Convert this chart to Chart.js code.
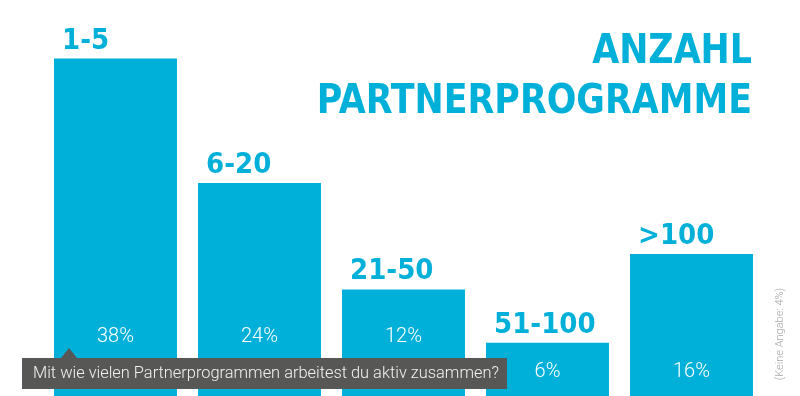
<!DOCTYPE html>
<html>
<head>
<meta charset="utf-8">
<script src="https://cdn.jsdelivr.net/npm/chart.js@4"></script>
<style>
  html, body { margin: 0; padding: 0; background: #fff; }
  #wrap { width: 800px; height: 396px; }
</style>
</head>
<body>
<div id="wrap"><canvas id="myChart" width="800" height="396"></canvas></div>
<script>
// data
var categories = ['1-5', '6-20', '21-50', '51-100', '>100'];
var shares = [38, 24, 12, 6, 16];
var titleLines = ['ANZAHL', 'PARTNERPROGRAMME'];
var question = 'Mit wie vielen Partnerprogrammen arbeitest du aktiv zusammen?';
var note = '(Keine Angabe: 4%)';

var blue = '#00b0d9';
var boldFont = '"DejaVu Sans Condensed", "DejaVu Sans", sans-serif';
var lightFont = 'Roboto, "Open Sans", sans-serif';

var overlay = {
  id: 'overlay',
  afterDatasetsDraw: function(chart) {
    var c = chart.ctx;
    var meta = chart.getDatasetMeta(0);
    c.save();

    // category labels above bars
    c.fillStyle = blue;
    c.font = 'bold 29px ' + boldFont;
    c.textAlign = 'left';
    c.textBaseline = 'alphabetic';
    meta.data.forEach(function(bar, i) {
      c.fillText(categories[i], bar.x - bar.width / 2 + 8, bar.y - 10);
    });

    // percent labels inside bars
    c.fillStyle = '#ffffff';
    c.font = '300 20px ' + lightFont;
    c.textAlign = 'center';
    c.textBaseline = 'middle';
    meta.data.forEach(function(bar, i) {
      var off = i < 3 ? 59 : 24;
      c.fillText(shares[i] + '%', bar.x, chart.chartArea.bottom - off);
    });

    // title (slightly condensed)
    c.save();
    c.fillStyle = blue;
    c.font = 'bold 41px ' + boldFont;
    c.textAlign = 'right';
    c.textBaseline = 'alphabetic';
    c.translate(752, 0);
    c.scale(0.945, 1);
    c.fillText(titleLines[0], 0, 63);
    c.fillText(titleLines[1], 0, 113);
    c.restore();

    // question box
    c.fillStyle = '#575756';
    c.fillRect(22, 358, 485, 31);
    c.beginPath();
    c.moveTo(61, 358);
    c.lineTo(69, 348);
    c.lineTo(77, 358);
    c.closePath();
    c.fill();
    c.fillStyle = '#f2f2f2';
    c.font = '300 16.4px ' + lightFont;
    c.textAlign = 'left';
    c.textBaseline = 'middle';
    c.fillText(question, 33, 374);

    // rotated note
    c.translate(780, 334);
    c.rotate(-Math.PI / 2);
    c.fillStyle = '#a8a8a8';
    c.font = '300 11px ' + lightFont;
    c.textAlign = 'center';
    c.fillText(note, 0, 0);
    c.restore();
  }
};

var ctx = document.getElementById('myChart').getContext('2d');
var myChart = new Chart(ctx, {
  type: 'bar',
  data: {
    labels: categories,
    datasets: [{
      data: shares,
      backgroundColor: blue,
      borderWidth: 0,
      categoryPercentage: 0.854,
      barPercentage: 1
    }]
  },
  options: {
    responsive: false,
    animation: false,
    layout: { padding: { left: 43.5, right: 36.5, top: 0, bottom: 0 } },
    scales: {
      x: { display: false },
      y: { display: false, min: 0, max: 44.6 }
    },
    plugins: {
      legend: { display: false },
      tooltip: { enabled: false }
    }
  },
  plugins: [overlay]
});
</script>
</body>
</html>
